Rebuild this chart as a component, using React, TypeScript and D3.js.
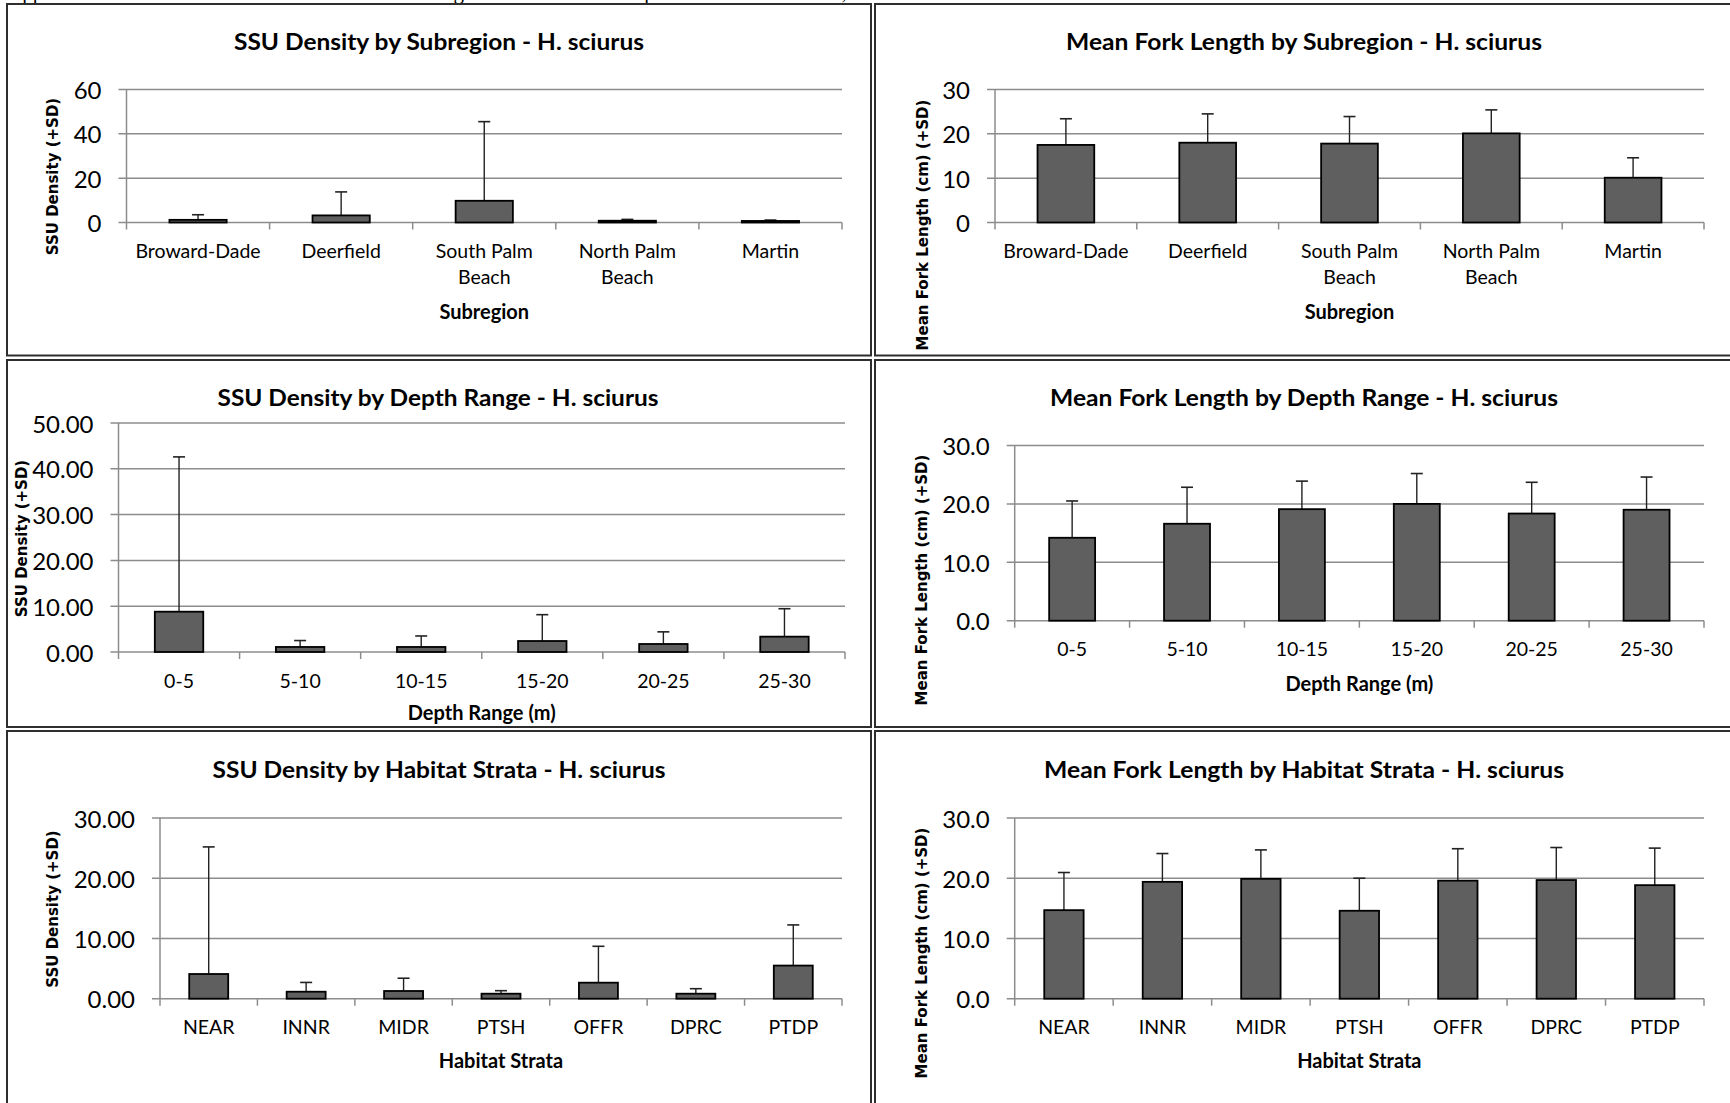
import React from "react";
import * as d3 from "d3";

// ---------- data ----------
const subregionCategories = ["Broward-Dade", "Deerfield", "South Palm\nBeach", "North Palm\nBeach", "Martin"];
const subregionDensityMean = [1.2, 3.2, 9.8, 0.8, 0.7];
const subregionDensitySD = [2.3, 10.6, 35.7, 0.6, 0.4];
const subregionLengthMean = [17.5, 18.0, 17.8, 20.1, 10.1];
const subregionLengthSD = [5.9, 6.5, 6.1, 5.3, 4.5];

const depthCategories = ["0-5", "5-10", "10-15", "15-20", "20-25", "25-30"];
const depthDensityMean = [8.8, 1.1, 1.1, 2.4, 1.75, 3.35];
const depthDensitySD = [33.8, 1.4, 2.4, 5.75, 2.65, 6.1];
const depthLengthMean = [14.2, 16.6, 19.1, 20.0, 18.35, 19.0];
const depthLengthSD = [6.3, 6.25, 4.8, 5.2, 5.35, 5.6];

const habitatCategories = ["NEAR", "INNR", "MIDR", "PTSH", "OFFR", "DPRC", "PTDP"];
const habitatDensityMean = [4.1, 1.16, 1.28, 0.83, 2.66, 0.83, 5.5];
const habitatDensitySD = [21.1, 1.54, 2.12, 0.5, 6.04, 0.83, 6.75];
const habitatLengthMean = [14.7, 19.4, 19.9, 14.6, 19.6, 19.7, 18.85];
const habitatLengthSD = [6.25, 4.7, 4.8, 5.4, 5.3, 5.4, 6.15];

const ticksSubregionDensity = [0, 20, 40, 60];
const ticksSubregionLength = [0, 10, 20, 30];
const ticksDepthDensity = [0, 10, 20, 30, 40, 50];
const ticksDepthLength = [0, 10, 20, 30];
const ticksHabitatDensity = [0, 10, 20, 30];
const ticksHabitatLength = [0, 10, 20, 30];

const titles = [
  "SSU Density by Subregion - H. sciurus",
  "Mean Fork Length by Subregion - H. sciurus",
  "SSU Density by Depth Range - H. sciurus",
  "Mean Fork Length by Depth Range - H. sciurus",
  "SSU Density by Habitat Strata - H. sciurus",
  "Mean Fork Length by Habitat Strata - H. sciurus",
];
const xTitles = ["Subregion", "Depth Range (m)", "Habitat Strata"];
const yTitleDensity = "SSU Density (+SD)";
const yTitleLength = "Mean Fork Length (cm) (+SD)";
const headerLine = "Appendix 11. Mean SSU densities and mean fork lengths for each site. Sampled in the 2013 census,";

// ---------- styles ----------
const SANS = "Lato, 'Open Sans', 'Liberation Sans', sans-serif";
const WIDE = "'DejaVu Sans', Verdana, sans-serif";
const GRID = "#8c8c8c";
const BAR = "#5f5f5f";
const FRAME = "#2e2e2e";

const panels = [
  {
    box: { x: 7, y: 4, w: 864, h: 351.5 },
    plot: { left: 126.5, right: 842, top: 89.5, bottom: 222.5 },
    cats: subregionCategories, mean: subregionDensityMean, sd: subregionDensitySD,
    ticks: ticksSubregionDensity, fmt: "d",
    title: titles[0], titleX: 439, titleY: 41, titleW: 410,
    xTitle: xTitles[0], catY: 250, xTitleY: 310.5,
    yTitle: yTitleDensity, yTitleX: 53, yTitleY: 176.5,
  },
  {
    box: { x: 875, y: 4, w: 900, h: 351.5 },
    plot: { left: 995, right: 1704, top: 89.5, bottom: 222.5 },
    cats: subregionCategories, mean: subregionLengthMean, sd: subregionLengthSD,
    ticks: ticksSubregionLength, fmt: "d",
    title: titles[1], titleX: 1304, titleY: 41, titleW: 476,
    xTitle: xTitles[0], catY: 250, xTitleY: 310.5,
    yTitle: yTitleLength, yTitleX: 923, yTitleY: 225,
  },
  {
    box: { x: 7, y: 360, w: 864, h: 367 },
    plot: { left: 118.5, right: 845, top: 423, bottom: 652 },
    cats: depthCategories, mean: depthDensityMean, sd: depthDensitySD,
    ticks: ticksDepthDensity, fmt: ".2f",
    title: titles[2], titleX: 438, titleY: 397, titleW: 441,
    xTitle: xTitles[1], catY: 680.7, xTitleY: 711.6,
    yTitle: yTitleDensity, yTitleX: 22, yTitleY: 538.5,
  },
  {
    box: { x: 875, y: 360, w: 900, h: 367 },
    plot: { left: 1014.7, right: 1704, top: 445.5, bottom: 620.7 },
    cats: depthCategories, mean: depthLengthMean, sd: depthLengthSD,
    ticks: ticksDepthLength, fmt: ".1f",
    title: titles[3], titleX: 1304, titleY: 397, titleW: 508,
    xTitle: xTitles[1], catY: 648.8, xTitleY: 683,
    yTitle: yTitleLength, yTitleX: 922, yTitleY: 580,
  },
  {
    box: { x: 7, y: 731, w: 864, h: 420 },
    plot: { left: 160, right: 842, top: 818, bottom: 998.7 },
    cats: habitatCategories, mean: habitatDensityMean, sd: habitatDensitySD,
    ticks: ticksHabitatDensity, fmt: ".2f",
    title: titles[4], titleX: 439, titleY: 769, titleW: 453,
    xTitle: xTitles[2], catY: 1026, xTitleY: 1060,
    yTitle: yTitleDensity, yTitleX: 53, yTitleY: 909,
  },
  {
    box: { x: 875, y: 731, w: 900, h: 420 },
    plot: { left: 1014.7, right: 1704, top: 818, bottom: 998.7 },
    cats: habitatCategories, mean: habitatLengthMean, sd: habitatLengthSD,
    ticks: ticksHabitatLength, fmt: ".1f",
    title: titles[5], titleX: 1304, titleY: 769, titleW: 520,
    xTitle: xTitles[2], catY: 1026, xTitleY: 1060,
    yTitle: yTitleLength, yTitleX: 922, yTitleY: 953,
  },
];

function Panel({ cfg }: { cfg: any }) {
  const { box, plot, cats, mean, sd, ticks, fmt } = cfg;
  const x = d3
    .scaleBand<string>()
    .domain(cats)
    .range([plot.left, plot.right])
    .paddingInner(0.6)
    .paddingOuter(0.3);
  const y = d3.scaleLinear().domain([0, d3.max(ticks as number[]) as number]).range([plot.bottom, plot.top]);
  const step = x.step();
  const f = d3.format(fmt);
  const bounds = d3.range(cats.length + 1).map((i) => plot.left + i * step);
  const cap = 6;
  return (
    <g>
      <rect x={box.x} y={box.y} width={box.w} height={box.h} fill="#fff" stroke={FRAME} strokeWidth={2} />
      {ticks.map((t: number) => (
        <line key={"g" + t} x1={plot.left - 8} x2={plot.right} y1={y(t)} y2={y(t)} stroke={GRID} strokeWidth={1.5} />
      ))}
      <line x1={plot.left} x2={plot.left} y1={plot.top} y2={plot.bottom} stroke={GRID} strokeWidth={1.5} />
      {bounds.map((bx: number, i: number) => (
        <line key={"xt" + i} x1={bx} x2={bx} y1={plot.bottom} y2={plot.bottom + 7} stroke={GRID} strokeWidth={1.5} />
      ))}
      {ticks.map((t: number) => (
        <text key={"yl" + t} x={plot.left - 25} y={y(t)} textAnchor="end" dominantBaseline="central"
          fontFamily={SANS} fontSize={24} fill="#000">{f(t)}</text>
      ))}
      {cats.map((c: string, i: number) => {
        const bx = x(c) as number;
        const bw = x.bandwidth();
        const cx = bx + bw / 2;
        const top = y(mean[i]);
        const etop = y(mean[i] + sd[i]);
        return (
          <g key={"b" + i}>
            <line x1={cx} x2={cx} y1={top} y2={etop} stroke="#222" strokeWidth={1.4} />
            <line x1={cx - cap} x2={cx + cap} y1={etop} y2={etop} stroke="#222" strokeWidth={1.6} />
            <rect x={bx} y={top} width={bw} height={plot.bottom - top} fill={BAR} stroke="#000" strokeWidth={1.8} />
          </g>
        );
      })}
      {cats.map((c: string, i: number) => {
        const cx = (x(c) as number) + x.bandwidth() / 2;
        return c.split("\n").map((ln: string, j: number) => (
          <text key={"c" + i + "_" + j} x={cx} y={cfg.catY + j * 26.5} textAnchor="middle" dominantBaseline="central"
            fontFamily={SANS} fontSize={19.5} fill="#000">{ln}</text>
        ));
      })}
      <text x={cfg.titleX} y={cfg.titleY} textAnchor="middle" dominantBaseline="central" fontFamily={SANS}
        fontWeight={700} fontSize={22} textLength={cfg.titleW} lengthAdjust="spacingAndGlyphs" fill="#000">{cfg.title}</text>
      <text x={(plot.left + plot.right) / 2} y={cfg.xTitleY} textAnchor="middle" dominantBaseline="central"
        fontFamily={SANS} fontWeight={700} fontSize={20} fill="#000">{cfg.xTitle}</text>
      <text transform={`translate(${cfg.yTitleX},${cfg.yTitleY}) rotate(-90)`} textAnchor="middle" dominantBaseline="central"
        fontFamily={WIDE} fontWeight={700} fontSize={15} fill="#000">{cfg.yTitle}</text>
    </g>
  );
}

export default function App() {
  return (
    <svg width={1730} height={1103} viewBox="0 0 1730 1103"
      style={{ position: "absolute", left: 0, top: 0, background: "#fff", display: "block" }}>
      <rect x={0} y={0} width={1730} height={1103} fill="#fff" />
      <text x={7} y={-1.5} fontFamily="'Liberation Serif', 'Times New Roman', serif" fontSize={21} fill="#000">{headerLine}</text>
      {panels.map((p, i) => (
        <Panel key={i} cfg={p} />
      ))}
    </svg>
  );
}
